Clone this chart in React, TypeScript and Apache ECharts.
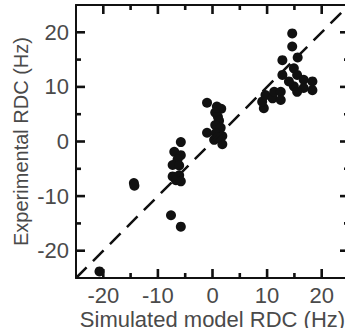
import React, { useEffect, useRef } from "react";
import * as echarts from "echarts";

const simulated: number[] = [
  -20.7, -14.4, -14.3, -7.6, -5.8,
  -5.8, -7.0, -5.8, -6.4, -7.3, -6.1, -7.3, -6.1, -6.7, -5.8,
  -1.0, 0.8, 1.6, 0.5, 1.0, 1.2, 0.5, 1.5, -1.0, 0.6, 1.8, 0.3, 1.8, 1.0,
  9.4, 9.1, 9.7, 11.0, 11.3, 12.5, 12.5, 12.8, 12.8, 14.6, 14.6, 14.9, 15.5,
  16.7, 18.3, 18.3, 16.7, 14.9, 14.0, 15.5, 15.6,
];
const experimental: number[] = [
  -23.8, -7.6, -8.1, -13.5, -15.6,
  -0.1, -1.9, -2.5, -3.3, -4.3, -4.4, -6.4, -6.2, -7.1, -7.3,
  7.1, 6.4, 6.0, 5.3, 4.5, 3.8, 3.0, 2.5, 1.6, 1.5, 1.0, 0.3, -0.5, 0.8,
  6.1, 7.3, 8.5, 7.9, 9.1, 9.1, 7.6, 14.9, 12.2, 19.8, 17.4, 13.4, 12.2,
  11.3, 11.0, 9.4, 9.8, 10.1, 11.0, 9.1, 15.4,
];
const diagonal: number[][] = [[-25, -25], [25, 25]];
const majorTicks: number[] = [-20, -10, 0, 10, 20];
const minorTicks: number[] = [-15, -5, 5, 15];
const axisMin = -25;
const axisMax = 25;
const tickStep = 5;
const xTitle = "Simulated model RDC (Hz)";
const yTitle = "Experimental RDC (Hz)";

const FONT = "'Liberation Sans', Arial, Helvetica, sans-serif";
const TEXT = "#4a4a4a";
const LINE = "#111111";

function makeAxes(kind: "x" | "y") {
  const main = kind === "x" ? "bottom" : "left";
  const opp = kind === "x" ? "top" : "right";
  const axis = (position: string, labels: boolean) => ({
    type: "value",
    min: axisMin,
    max: axisMax,
    interval: tickStep,
    position,
    splitLine: { show: false },
    axisLine: { show: true, onZero: false, lineStyle: { color: LINE, width: 2 } },
    axisTick: { show: false },
    axisLabel: labels
      ? {
          show: true,
          fontFamily: FONT,
          fontSize: 22,
          color: TEXT,
          margin: kind === "x" ? 6 : 7,
          formatter: (v: number) =>
            majorTicks.indexOf(v) >= 0 ? String(v) : "",
        }
      : { show: false },
    name: labels ? (kind === "x" ? xTitle : yTitle) : "",
    nameLocation: "middle",
    nameGap: kind === "x" ? 30 : 45,
    nameMoveOverlap: false,
    nameTextStyle: {
      fontFamily: FONT,
      fontSize: kind === "x" ? 22 : 20,
      color: TEXT,
    },
  });
  return [axis(main, true), axis(opp, false)];
}

// tick marks drawn through the axis scales (value, isMajor)
const tickData = [
  ...majorTicks.map((v) => [v, 1]),
  ...minorTicks.map((v) => [v, 0]),
];

function tickRenderer(dim: "x" | "y") {
  return (params: any, api: any) => {
    const v = api.value(0);
    const len = api.value(1) ? 9 : 5;
    const w = 2.6;
    const cs = params.coordSys;
    const style = { fill: LINE, stroke: null };
    if (dim === "x") {
      const x = api.coord([v, 0])[0];
      const yb = cs.y + cs.height;
      const yt = cs.y;
      return {
        type: "group",
        children: [
          { type: "rect", shape: { x: x - w / 2, y: yb - len, width: w, height: len }, style },
          { type: "rect", shape: { x: x - w / 2, y: yt, width: w, height: len }, style },
        ],
      };
    }
    const y = api.coord([0, v])[1];
    const xl = cs.x;
    const xr = cs.x + cs.width;
    return {
      type: "group",
      children: [
        { type: "rect", shape: { x: xl, y: y - w / 2, width: len, height: w }, style },
        { type: "rect", shape: { x: xr - len, y: y - w / 2, width: len, height: w }, style },
      ],
    };
  };
}

export default function App() {
  const ref = useRef<HTMLDivElement>(null);
  useEffect(() => {
    if (!ref.current) return;
    const chart = echarts.init(ref.current, null, { renderer: "svg" });
    const points = simulated.map((x, i) => [x, experimental[i]]);
    chart.setOption({
      animation: false,
      backgroundColor: "#ffffff",
      grid: {
        left: 76,
        top: 5,
        width: 273,
        height: 273,
        outerBoundsMode: "none",
        containLabel: false,
      },
      xAxis: makeAxes("x"),
      yAxis: makeAxes("y"),
      series: [
        {
          type: "custom",
          data: tickData,
          renderItem: tickRenderer("x"),
          silent: true,
          clip: false,
          z: 10,
        },
        {
          type: "custom",
          data: tickData,
          renderItem: tickRenderer("y"),
          silent: true,
          clip: false,
          z: 10,
        },
        {
          type: "line",
          data: diagonal,
          symbol: "none",
          lineStyle: { color: LINE, width: 2.5, type: [15, 9] },
          silent: true,
        },
        {
          type: "scatter",
          data: points,
          symbol: "circle",
          symbolSize: 10,
          itemStyle: { color: "#111111", opacity: 1 },
        },
      ],
    });
    return () => chart.dispose();
  }, []);
  return (
    <div
      ref={ref}
      style={{ position: "fixed", left: 0, top: 0, width: 345, height: 328 }}
    />
  );
}
